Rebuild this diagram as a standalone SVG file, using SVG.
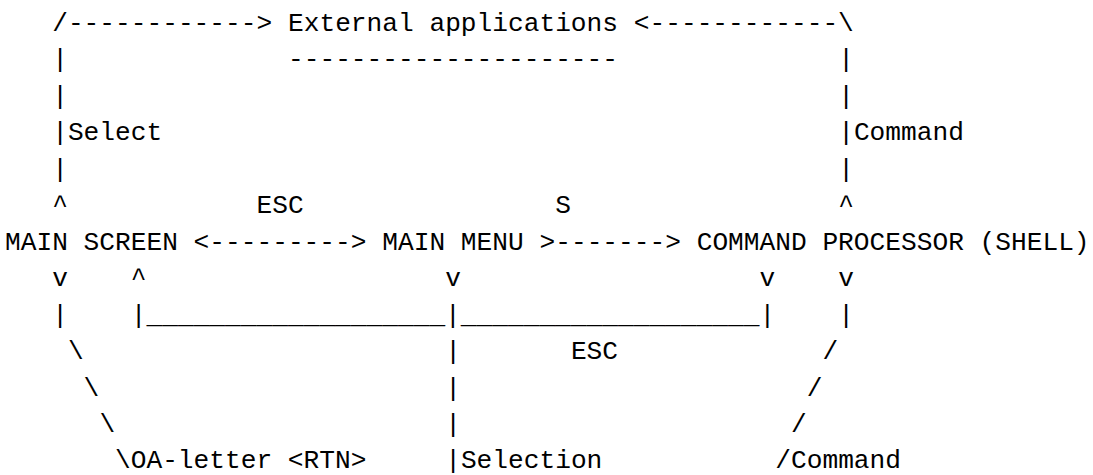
<svg xmlns="http://www.w3.org/2000/svg" width="1093" height="475" viewBox="0 0 1093 475">
<style>
text{font-family:"Liberation Mono","DejaVu Sans Mono",monospace;font-size:26.2px;fill:#000;white-space:pre}
</style>
<rect width="1093" height="475" fill="#fff"/>
<g id="connectors">
<text x="52.2" y="31">/------------&gt;</text>
<text x="633.8" y="31">&lt;------------\</text>
<text x="52.2" y="67.4">|</text><text x="838.2" y="67.4">|</text>
<text x="52.2" y="103.9">|</text><text x="838.2" y="103.9">|</text>
<text x="52.2" y="140.3">|Select</text><text x="838.2" y="140.3">|Command</text>
<text x="52.2" y="176.8">|</text><text x="838.2" y="176.8">|</text>
<text x="52.2" y="213.2">^</text><text x="256.5" y="213.2">ESC</text><text x="555.2" y="213.2">S</text><text x="838.2" y="213.2">^</text>
<text x="193.6" y="249.7">&lt;---------&gt;</text>
<text x="539.5" y="249.7">&gt;-------&gt;</text>
<text x="52.2" y="286.1">v</text><text x="130.8" y="286.1">^</text><text x="445.2" y="286.1">v</text><text x="759.6" y="286.1">v</text><text x="838.2" y="286.1">v</text>
<text x="52.2" y="322.6">|</text><text x="130.8" y="322.6">|___________________|___________________|</text><text x="838.2" y="322.6">|</text>
<text x="67.9" y="359">\</text><text x="445.2" y="359">|</text><text x="570.9" y="359">ESC</text><text x="822.4" y="359">/</text>
<text x="83.6" y="395.5">\</text><text x="445.2" y="395.5">|</text><text x="806.7" y="395.5">/</text>
<text x="99.4" y="431.9">\</text><text x="445.2" y="431.9">|</text><text x="791" y="431.9">/</text>
<text x="115" y="468.4">\OA-letter &lt;RTN&gt;</text><text x="445.2" y="468.4">|Selection</text><text x="775.3" y="468.4">/Command</text>
</g>
<g id="external-applications">
<text x="288" y="31">External applications</text>
<text x="288" y="67.4">---------------------</text>
</g>
<g id="main-screen"><text x="5" y="249.7">MAIN SCREEN</text></g>
<g id="main-menu"><text x="382.3" y="249.7">MAIN MENU</text></g>
<g id="command-processor"><text x="696.7" y="249.7">COMMAND PROCESSOR (SHELL)</text></g>
</svg>
